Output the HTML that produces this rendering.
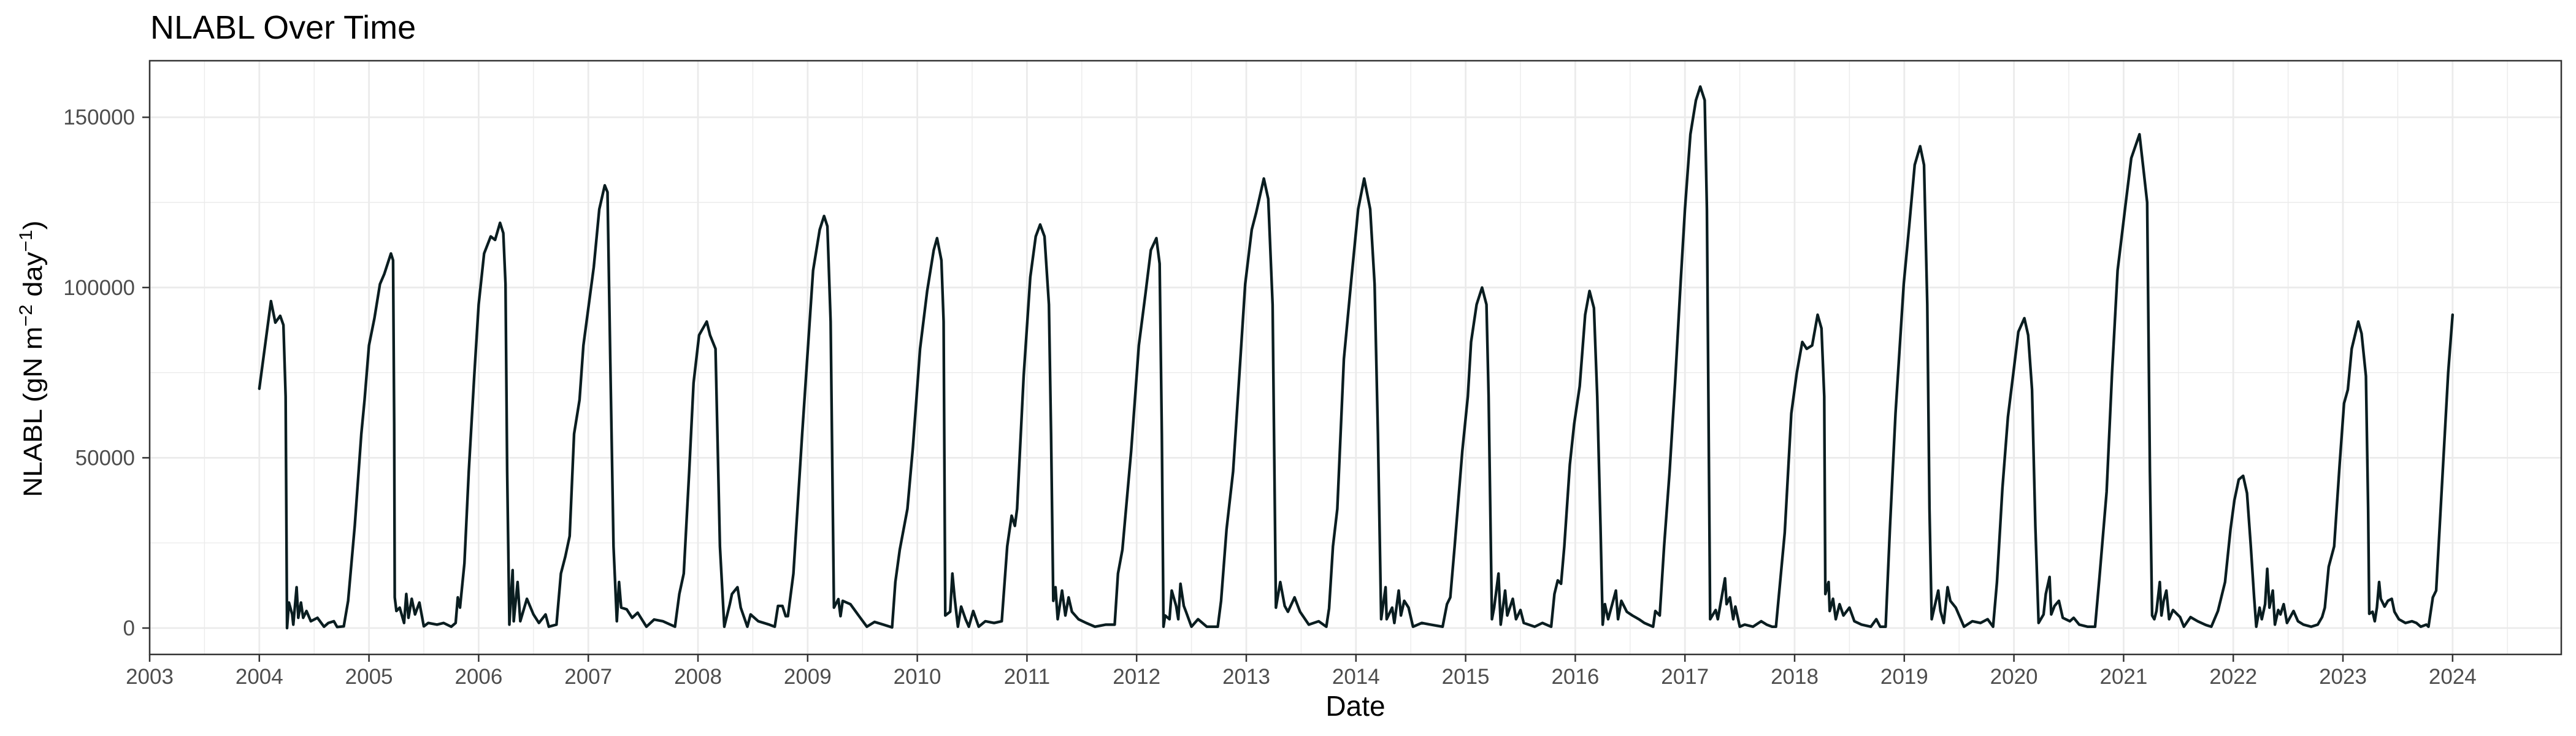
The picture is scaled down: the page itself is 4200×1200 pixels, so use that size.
<!DOCTYPE html>
<html>
<head>
<meta charset="utf-8">
<style>
  html, body { margin: 0; padding: 0; background: #ffffff; }
  svg { display: block; }
  text { font-family: "Liberation Sans", Arial, sans-serif; }
</style>
</head>
<body>
<svg id="chart" width="4200" height="1200" viewBox="0 0 4200 1200" xmlns="http://www.w3.org/2000/svg">
  <rect x="0" y="0" width="4200" height="1200" fill="#ffffff"/>
  <text x="245" y="63" font-size="54" fill="#000000">NLABL Over Time</text>
  <g id="grid-minor"></g>
  <g id="grid-major"></g>
  <g id="series"></g>
  <rect x="244" y="99" width="3932" height="968" fill="none" stroke="#333333" stroke-width="2.5"/>
  <g id="y-axis"></g>
  <g id="x-axis"></g>
  <text x="2210" y="1167" font-size="46" text-anchor="middle" fill="#000000">Date</text>
  <text transform="translate(68,585) rotate(-90)" font-size="43" text-anchor="middle" fill="#000000" textLength="451" lengthAdjust="spacingAndGlyphs">NLABL (gN m<tspan dy="-16" font-size="30">−2</tspan><tspan dy="16"> day</tspan><tspan dy="-16" font-size="30">−1</tspan><tspan dy="16">)</tspan></text>
</svg>
<script>
// ---- data (decimal year, value in thousands of gN m-2 day-1) ----
const dates = [
2004.0,2004.106,2004.146,2004.19,2004.22,2004.24,2004.253,2004.27,2004.30,2004.31,2004.34,2004.355,2004.38,2004.40,2004.43,2004.47,2004.53,2004.59,2004.63,2004.68,2004.71,2004.77,2004.81,2004.87,2004.93,2004.96,
2005.0,2005.05,2005.10,2005.14,2005.20,2005.22,2005.23,2005.235,2005.25,2005.28,2005.32,2005.34,2005.36,2005.39,2005.42,2005.46,2005.50,2005.54,2005.62,2005.68,2005.75,2005.79,2005.81,2005.83,2005.87,2005.91,2005.96,
2006.0,2006.05,2006.11,2006.15,2006.195,2006.225,2006.245,2006.26,2006.28,2006.31,2006.32,2006.355,2006.38,2006.44,2006.5,2006.55,2006.61,2006.64,2006.71,2006.75,2006.79,2006.83,2006.87,2006.92,2006.955,
2007.05,2007.10,2007.15,2007.175,2007.20,2007.23,2007.26,2007.28,2007.30,2007.35,2007.40,2007.45,2007.53,2007.60,2007.68,2007.79,2007.83,2007.87,2007.92,2007.96,
2008.01,2008.08,2008.11,2008.16,2008.20,2008.24,2008.29,2008.31,2008.36,2008.39,2008.45,2008.48,2008.55,2008.65,2008.70,2008.73,2008.77,2008.80,2008.82,2008.87,2008.95,
2009.05,2009.11,2009.15,2009.18,2009.21,2009.24,2009.28,2009.30,2009.32,2009.39,2009.465,2009.54,2009.61,2009.69,2009.77,2009.80,2009.84,2009.91,2009.96,
2010.025,2010.09,2010.15,2010.18,2010.22,2010.24,2010.255,2010.30,2010.32,2010.34,2010.37,2010.40,2010.44,2010.47,2010.51,2010.56,2010.62,2010.70,2010.77,2010.82,2010.86,2010.89,2010.91,2010.97,
2011.03,2011.08,2011.12,2011.16,2011.20,2011.22,2011.24,2011.26,2011.28,2011.32,2011.35,2011.38,2011.41,2011.47,2011.54,2011.62,2011.72,2011.80,2011.83,2011.87,2011.95,
2012.02,2012.08,2012.13,2012.18,2012.21,2012.23,2012.245,2012.26,2012.30,2012.32,2012.36,2012.38,2012.40,2012.43,2012.45,2012.50,2012.56,2012.64,2012.74,2012.77,2012.82,2012.88,2012.93,2012.99,
2013.05,2013.09,2013.16,2013.20,2013.24,2013.27,2013.31,2013.35,2013.38,2013.44,2013.49,2013.57,2013.66,2013.73,2013.755,2013.79,2013.83,2013.89,2013.96,
2014.02,2014.075,2014.13,2014.17,2014.20,2014.23,2014.27,2014.28,2014.33,2014.35,2014.39,2014.41,2014.44,2014.48,2014.52,2014.60,2014.68,2014.79,2014.83,2014.86,2014.90,2014.97,
2015.02,2015.05,2015.10,2015.15,2015.19,2015.21,2015.24,2015.26,2015.30,2015.32,2015.36,2015.38,2015.43,2015.46,2015.50,2015.53,2015.63,2015.70,2015.78,2015.81,2015.84,2015.87,2015.90,2015.95,2015.99,
2016.04,2016.09,2016.13,2016.17,2016.20,2016.23,2016.25,2016.27,2016.30,2016.37,2016.39,2016.42,2016.47,2016.52,2016.58,2016.63,2016.71,2016.73,2016.77,2016.81,2016.86,2016.91,2016.96,
2017.0,2017.05,2017.10,2017.14,2017.18,2017.20,2017.23,2017.28,2017.30,2017.365,2017.38,2017.41,2017.44,2017.46,2017.50,2017.545,2017.62,2017.695,2017.745,2017.795,2017.83,2017.91,2017.97,
2018.02,2018.07,2018.11,2018.16,2018.21,2018.245,2018.27,2018.28,2018.31,2018.32,2018.35,2018.375,2018.41,2018.445,2018.50,2018.545,2018.61,2018.695,2018.745,2018.78,2018.83,2018.87,2018.92,2018.995,
2019.045,2019.095,2019.145,2019.18,2019.21,2019.23,2019.25,2019.31,2019.33,2019.36,2019.395,2019.42,2019.47,2019.545,2019.62,2019.695,2019.76,2019.81,2019.845,2019.895,2019.945,2019.995,
2020.04,2020.095,2020.13,2020.165,2020.195,2020.225,2020.27,2020.29,2020.325,2020.34,2020.37,2020.41,2020.445,2020.51,2020.545,2020.595,2020.67,2020.74,2020.78,2020.845,2020.895,2020.945,
2021.02,2021.07,2021.145,2021.18,2021.215,2021.24,2021.26,2021.28,2021.30,2021.33,2021.345,2021.365,2021.39,2021.415,2021.45,2021.515,2021.55,2021.61,2021.675,2021.75,2021.80,2021.86,2021.925,2021.975,
2022.01,2022.05,2022.09,2022.125,2022.16,2022.19,2022.21,2022.24,2022.26,2022.29,2022.31,2022.33,2022.36,2022.38,2022.41,2022.43,2022.46,2022.49,2022.55,2022.59,2022.64,2022.71,2022.77,2022.81,2022.835,2022.87,2022.92,2022.97,
2023.01,2023.045,2023.08,2023.14,2023.17,2023.21,2023.23,2023.24,2023.27,2023.29,2023.31,2023.33,2023.345,2023.38,2023.41,2023.445,2023.47,2023.51,2023.57,2023.63,2023.67,2023.71,2023.76,2023.78,2023.82,2023.85,2023.91,2023.96,
2024.0
];
const valuesK = [
70.3,96,89.7,91.7,89,68,0,7.5,4,1,12,3,7.5,3,5,2,3,0.4,1.5,2,0.3,0.5,8,30,57,67,
83,91,101,104,110,108,60,9,5,6,1.5,10,3,8.6,4,7.5,0.5,1.5,1,1.5,0.4,1.5,9,6,19,46,74,
95,110,115,114,119,116,101,46,1,17,2,13.5,2,8.6,4,1.5,4,0.4,1,16,21,27,57,67,83,
106,123,130,128,79,24,2,13.5,6,5.5,3,4.5,0.4,2.5,2,0.4,10,16,46,72,
86,90,86,82,24,0.4,7,10,12,6,0.4,4,2,1,0.4,6.5,6.5,3.5,3.5,16,57,
105,117,121,118,90,6,8.5,3.5,8,7,3.7,0.4,1.8,1,0.2,13.5,23,35,53,
82,99,111,114.5,108,90,3.7,4.8,16,9,0.4,6.3,2.6,0.4,5,0.4,2,1.5,2,24,33,30,35,74,
103,115,118.5,115,95,57,8,12,2.6,11,3.7,9,4.8,2.6,1.5,0.4,1,1,16,23,52,
83,98,111,114.5,107,57,0.4,3.7,2.6,11,6.5,2.6,13,6.5,4.8,0.4,2.6,0.4,0.4,8,29,46,71,101,
117,122,132,126,95,6,13.5,6.5,4.8,9,4.8,1,2,0.4,5.8,24,35,79,103,
123,132,123,101,57,2.6,12,2.6,6,1.5,11,3.7,8,6,0.4,1.5,1,0.4,7,9,24,52,
68,84,95,100,95,68,2.6,6,16,1,11,3.7,8.6,2.6,5.3,1.5,0.4,1.5,0.4,10,14,13,24,48,60,
71,92,99,94,68,30,1,7,2.6,11,2.6,8,4.8,3.7,2.6,1.5,0.4,5,3.7,24,46,72,101,
123,145,155,159,155,123,2.6,5.3,2.6,14.6,7,9,2.6,6.3,0.4,1,0.4,2,1,0.4,0.4,28,63,
75,84,82,83,92,88,68,10,13.5,5,8.6,2.6,7,3.7,6,2,1,0.4,2.6,0.4,0.4,30,63,101,
118,136,141.5,136,95,35,2.6,11,5,1.5,12,8,6,0.4,2,1.5,2.6,0.4,13.5,41,62,75,
87,91,86,70,30,1.5,4,10,15,4,6.5,8,3,2,3,1,0.4,0.4,15,40,75,105,
125,138,145,135,125,46,3.7,2.6,5,13.5,3.7,8,11,2.6,5.3,3.2,0.4,3.2,2,0.9,0.4,5,13.5,29,
37.5,43.6,44.7,39.6,24,9,0.4,6,2.6,7,17.4,6,11,1,5.3,4,7,1.5,5,2,1,0.4,1,3.2,6,18,24,48,
66,70,82,90,86.5,74,35,4.2,4.8,2,6,13.5,8.6,6.3,8,8.6,4.8,2.6,1.5,2,1.5,0.4,1,0.4,9,11,46,75,
92
];
const yTicks = [0, 50000, 100000, 150000];
const yTickLabels = ["0", "50000", "100000", "150000"];
const yMinor = [25000, 75000, 125000];
const xTickYears = [2003,2004,2005,2006,2007,2008,2009,2010,2011,2012,2013,2014,2015,2016,2017,2018,2019,2020,2021,2022,2023,2024];

// ---- scales ----
const PL = 244, PR = 4176, PT = 99, PB = 1067;
function xScale(t) { return PL + (t - 2003) * 178.8; }
function yScale(v) { return 1024 - v * 277.6 / 50000; }
const NS = "http://www.w3.org/2000/svg";
function mk(tag, attrs, parent) {
  const e = document.createElementNS(NS, tag);
  for (const k in attrs) e.setAttribute(k, attrs[k]);
  parent.appendChild(e);
  return e;
}
const gMinor = document.getElementById('grid-minor');
const gMajor = document.getElementById('grid-major');
const gSeries = document.getElementById('series');
const gY = document.getElementById('y-axis');
const gX = document.getElementById('x-axis');

yMinor.forEach(v => {
  const l = mk('line', {x1: PL, x2: PR, y1: yScale(v), y2: yScale(v), stroke: '#ebebeb', 'stroke-width': 1.4}, gMinor);
  
  
});
xTickYears.forEach(yr => {
  const l = mk('line', {x1: xScale(yr + 0.5), x2: xScale(yr + 0.5), y1: PT, y2: PB, stroke: '#ebebeb', 'stroke-width': 1.4}, gMinor);
  
  
});
yTicks.forEach((v, i) => {
  const y = yScale(v);
  const l = mk('line', {x1: PL, x2: PR, y1: y, y2: y, stroke: '#ebebeb', 'stroke-width': 2.8}, gMajor);
  
  
  const t = mk('line', {x1: PL - 12, x2: PL, y1: y, y2: y, stroke: '#333333', 'stroke-width': 2.5}, gY);
  
  
  const tx = mk('text', {x: 220, y: y + 12, 'font-size': 35, 'text-anchor': 'end', fill: '#4d4d4d'}, gY);
  tx.textContent = yTickLabels[i];
  
  
});
xTickYears.forEach(yr => {
  const x = xScale(yr);
  const l = mk('line', {x1: x, x2: x, y1: PT, y2: PB, stroke: '#ebebeb', 'stroke-width': 2.8}, gMajor);
  
  
  const t = mk('line', {x1: x, x2: x, y1: PB, y2: PB + 12, stroke: '#333333', 'stroke-width': 2.5}, gX);
  
  
  const tx = mk('text', {x: x, y: 1115, 'font-size': 35, 'text-anchor': 'middle', fill: '#4d4d4d'}, gX);
  tx.textContent = String(yr);
  
  
});

const n = Math.min(dates.length, valuesK.length);
let d = '';
for (let i = 0; i < n; i++) {
  d += (i ? 'L' : 'M') + xScale(dates[i]).toFixed(1) + ',' + yScale(valuesK[i] * 1000).toFixed(1);
}
const path = mk('path', {d: d, fill: 'none', stroke: '#0a1d20', 'stroke-width': 4.4, 'stroke-linejoin': 'round', 'stroke-linecap': 'round'}, gSeries);


</script>
</body>
</html>
